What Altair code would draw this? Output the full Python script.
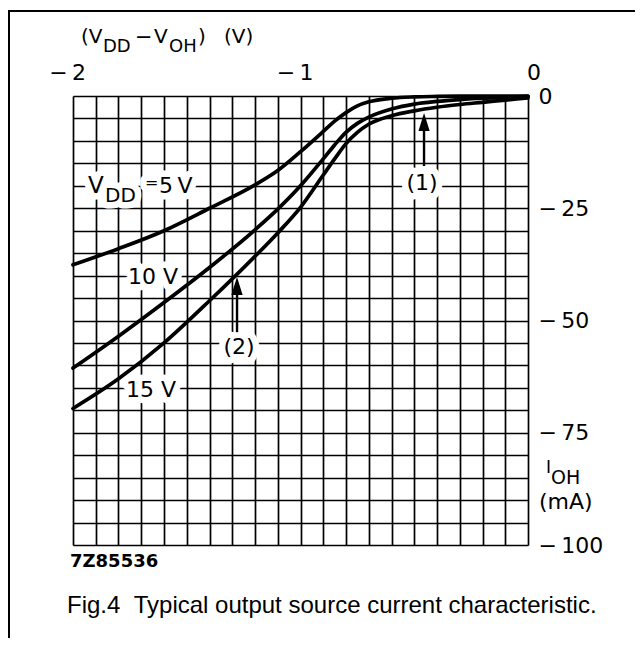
import altair as alt
import pandas as pd

# ---- data ----
series = ["5 V", "10 V", "15 V"]
v_out = [-2.0, -1.8, -1.6, -1.4, -1.2, -1.1, -1.0, -0.9, -0.85, -0.8, -0.75,
         -0.7, -0.6, -0.5, -0.4, -0.3, -0.2, -0.1, 0.0]
i_5v = [-37.6, -34.0, -30.0, -25.0, -19.8, -16.6, -12.4, -7.9, -5.6, -3.7, -2.2,
        -1.3, -0.5, -0.2, -0.1, -0.05, 0.0, 0.0, 0.0]
i_10v = [-60.6, -53.5, -46.0, -38.2, -29.8, -25.2, -20.0, -14.0, -10.9, -8.1, -6.1,
         -4.7, -2.9, -1.8, -1.2, -0.8, -0.5, -0.3, -0.1]
i_15v = [-69.6, -63.0, -55.0, -45.6, -35.7, -30.5, -24.8, -17.6, -14.0, -10.6, -8.1,
         -6.3, -4.4, -3.3, -2.5, -1.9, -1.4, -0.9, -0.4]

x_tick_values = [-2, -1, 0]
x_tick_labels = ["\u2212\u20092", "\u2212\u20091", "0\u00a0"]
y_tick_values = [0, -25, -50, -75, -100]
y_tick_labels = ["0", "\u2212\u200925", "\u2212\u200950", "\u2212\u200975", "\u2212\u2009100"]

grid_x = [round(-2 + 0.1 * k, 1) for k in range(21)]
grid_y = [-5 * k for k in range(21)]

rows = []
for s, ys in zip(series, [i_5v, i_10v, i_15v]):
    for xv, yv in zip(v_out, ys):
        rows.append({"v": xv, "i": yv, "s": s})
df = pd.DataFrame(rows)

W, H = 455, 449
OX, OY = 73, 96  # page position of plot origin (for outside text)
FONT = "DejaVu Sans"


def label_expr(vals, texts):
    e = "''"
    for v, t in reversed(list(zip(vals, texts))):
        e = f"(datum.value == {v}) ? '{t}' : ({e})"
    return e


common_axis = dict(ticks=False, tickSize=0, domain=False, grid=True, gridColor="black",
                   gridWidth=1.7, gridOpacity=1, labelFont=FONT, labelFontSize=22,
                   labelColor="black", labelOverlap=False, labelFlush=False, title=None)

XE = alt.X("v:Q", scale=alt.Scale(domain=[-2, 0], nice=False, zero=False),
           axis=alt.Axis(orient="top", values=grid_x, labels=False, **common_axis))
YE = alt.Y("i:Q", scale=alt.Scale(domain=[-100, 0], nice=False, zero=False),
           axis=alt.Axis(orient="right", values=grid_y,
                         labelExpr=label_expr(y_tick_values, y_tick_labels),
                         labelAlign="left", labelBaseline="middle",
                         labelPadding=10, **common_axis))

base = alt.Chart(df).mark_line(color="black", strokeWidth=3.7, interpolate="monotone",
                               strokeCap="round").encode(x=XE, y=YE, detail="s:N")

# x tick labels on top
xlab_df = pd.DataFrame({"v": x_tick_values, "t": x_tick_labels})
xlabels = alt.Chart(xlab_df).mark_text(font=FONT, fontSize=22, align="right",
                                       baseline="alphabetic", dx=13, color="black").encode(
    x=XE, y=alt.value(-16), text="t:N")

halos = []
texts = []


def dtext(text, x, y, size, dx=0, dy=0, align="left", halo=True):
    d = pd.DataFrame({"v": [x], "i": [y]})
    c = alt.Chart(d).encode(x=XE, y=YE)
    if halo:
        halos.append(c.mark_text(text=text, font=FONT, fontSize=size, align=align,
                                 baseline="alphabetic", dx=dx, dy=dy, fill="white",
                                 stroke="white", strokeWidth=13, strokeJoin="round"))
    texts.append(c.mark_text(text=text, font=FONT, fontSize=size, align=align,
                             baseline="alphabetic", dx=dx, dy=dy, color="black"))


# in-plot labels (anchor in data units)
dtext("V", -1.934, -21.6, 23)
dtext("DD", -1.934, -21.6, 20, dx=17, dy=9)
dtext("=", -1.934, -21.6, 16, dx=57, dy=-5)
dtext("5\u2009V", -1.934, -21.6, 22, dx=71)
dtext("10 V", -1.758, -41.9, 22)
dtext("15 V", -1.767, -67.0, 22)
dtext("(1)", -0.466, -20.9, 22, align="center")
dtext("(2)", -1.270, -57.5, 22, align="center")

arrows = pd.DataFrame({"v": [-0.457, -1.279], "i": [-15.6, -52.6], "i2": [-5.0, -42.0]})
shafts = alt.Chart(arrows).mark_rule(color="black", strokeWidth=2.4).encode(
    x=XE, y=YE, y2="i2:Q")
tips = pd.DataFrame({"v": [-0.457, -1.279], "i": [-3.8, -40.3]})
heads = alt.Chart(tips).mark_point(shape="M0,0L0.5,1.6L-0.5,1.6Z", filled=True, size=506,
                                   color="black", opacity=1).encode(x=XE, y=YE)

dummy = pd.DataFrame({"a": [0]})


def ptext(text, px, py, size, font=FONT, weight="normal", align="left"):
    return alt.Chart(dummy).mark_text(text=text, font=font, fontSize=size,
                                      fontWeight=weight, align=align,
                                      baseline="alphabetic", color="black").encode(
        x=alt.value(px - OX), y=alt.value(py - OY))


outside = [
    ptext("(V", 81, 43, 20),
    ptext("DD", 103, 52, 18),
    ptext("\u2212", 135, 44, 21),
    ptext("V", 154, 43, 20),
    ptext("OH", 169, 52, 18),
    ptext(")", 198, 43, 20),
    ptext("(V)", 224, 43, 20),
    ptext("I", 546, 473, 17),
    ptext("OH", 551, 484, 19),
    ptext("(mA)", 539, 509, 22),
    ptext("7Z85536", 70, 567, 18, weight="bold"),
    ptext("Fig.4\u00a0\u00a0Typical output source current characteristic.", 67, 613, 24,
          font="Liberation Sans"),
]

frame_top = alt.Chart(dummy).mark_rule(color="black", strokeWidth=2).encode(
    x=alt.value(8 - OX), x2=alt.value(640 - OX), y=alt.value(11 - OY))
frame_left = alt.Chart(dummy).mark_rule(color="black", strokeWidth=2).encode(
    x=alt.value(9 - OX), y=alt.value(11 - OY), y2=alt.value(646 - OY))

chart = alt.layer(*halos, base, shafts, heads, xlabels, *texts, *outside, frame_top,
                  frame_left).properties(
    width=W, height=H,
    padding={"left": 65, "top": 88, "right": 107, "bottom": 93},
    autosize=alt.AutoSizeParams(type="none"),
).configure_view(stroke="black", strokeWidth=3).configure(background="white")

chart.save("out.html", embed_options={"renderer": "svg", "actions": False})
